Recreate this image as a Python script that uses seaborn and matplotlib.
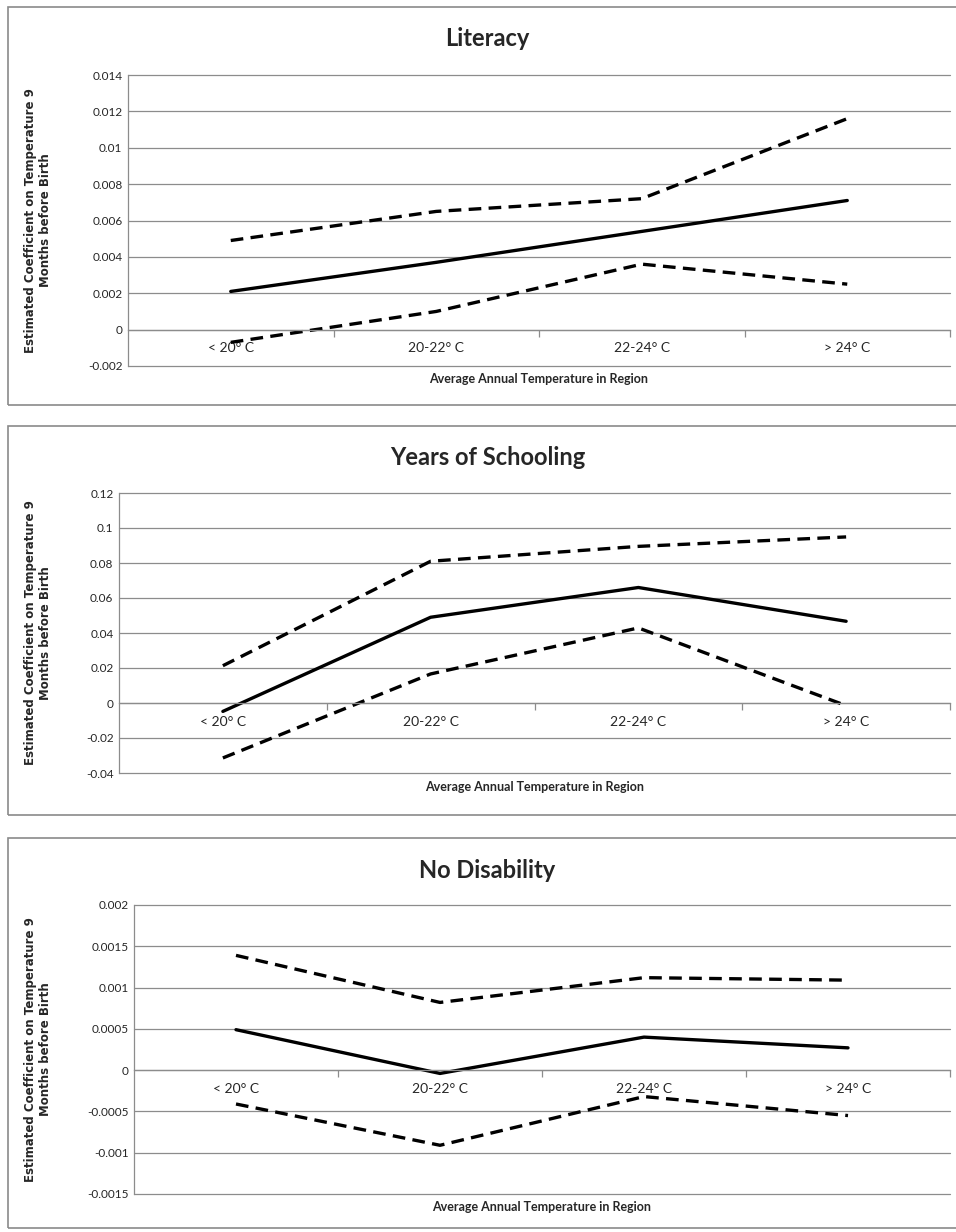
import matplotlib
matplotlib.use("Agg")
import matplotlib.pyplot as plt
from matplotlib.patches import Rectangle
import seaborn as sns

# categories on the x axis
categories = ["< 20° C", "20-22° C", "22-24° C", "> 24° C"]

# Literacy
lit_coef = [0.0021, 0.0037, 0.0054, 0.0071]
lit_upper = [0.0049, 0.0065, 0.0072, 0.0116]
lit_lower = [-0.0007, 0.0010, 0.0036, 0.0025]
lit_ticks = [-0.002, 0, 0.002, 0.004, 0.006, 0.008, 0.01, 0.012, 0.014]

# Years of schooling
yrs_coef = [-0.0048, 0.049, 0.066, 0.0467]
yrs_upper = [0.0213, 0.081, 0.0895, 0.0949]
yrs_lower = [-0.0314, 0.0166, 0.0429, -0.0015]
yrs_ticks = [-0.04, -0.02, 0, 0.02, 0.04, 0.06, 0.08, 0.1, 0.12]

# No disability
dis_coef = [0.00049, -0.00004, 0.00040, 0.00027]
dis_upper = [0.00139, 0.00082, 0.00112, 0.00109]
dis_lower = [-0.00041, -0.00091, -0.00032, -0.00055]
dis_ticks = [-0.0015, -0.001, -0.0005, 0, 0.0005, 0.001, 0.0015, 0.002]

titles = ["Literacy", "Years of Schooling", "No Disability"]
xlabel = "Average Annual Temperature in Region"
ylabel = "Estimated Coefficient on Temperature 9\nMonths before Birth"

sns.set_style("white")
plt.rcParams["font.family"] = ["Lato", "DejaVu Sans"]

W, H = 956, 1232
fig = plt.figure(figsize=(W / 100, H / 100), dpi=100)

GRID = "#8c8c8c"

# pixel layout: (axes left, top, bottom), box (top, bottom), title y, xlabel y
panels = [
    dict(ax=(128, 75, 366), box=(7, 405), title_y=39, xlab_y=379,
         data=(lit_coef, lit_upper, lit_lower), ticks=lit_ticks),
    dict(ax=(119, 493, 773), box=(426, 815), title_y=457, xlab_y=787,
         data=(yrs_coef, yrs_upper, yrs_lower), ticks=yrs_ticks),
    dict(ax=(134, 905, 1194), box=(838, 1228), title_y=870, xlab_y=1207,
         data=(dis_coef, dis_upper, dis_lower), ticks=dis_ticks),
]
RIGHT = 950

for title, p in zip(titles, panels):
    left, top, bottom = p["ax"]
    btop, bbot = p["box"]

    # outer chart frame
    fig.patches.append(Rectangle((8 / W, 1 - bbot / H), 1.2, (bbot - btop) / H,
                                 transform=fig.transFigure, fill=False,
                                 edgecolor="#8a8a8a", linewidth=1.2))

    ax = fig.add_axes([left / W, 1 - bottom / H, (RIGHT - left) / W, (bottom - top) / H])
    ax.set_facecolor("none")

    coef, upper, lower = p["data"]
    sns.lineplot(x=categories, y=upper, ax=ax, color="black", linewidth=2.4,
                 sort=False)
    sns.lineplot(x=categories, y=lower, ax=ax, color="black", linewidth=2.4,
                 sort=False)
    sns.lineplot(x=categories, y=coef, ax=ax, color="black", linewidth=2.4,
                 sort=False)
    ax.lines[0].set_dashes((3.8, 2.2))
    ax.lines[1].set_dashes((3.8, 2.2))

    ticks = p["ticks"]
    ax.set_ylim(ticks[0], ticks[-1])
    ax.set_xlim(-0.5, 3.5)
    ax.set_yticks(ticks)
    ax.set_yticklabels([f"{t:g}" for t in ticks], fontsize=8.5)
    for t in ticks:
        ax.axhline(t, color=GRID, linewidth=0.9, zorder=0, clip_on=False)

    ax.set_xticks(range(len(categories)))
    ax.set_xticklabels(categories, fontsize=8.5)
    ax.set_xticks([0.5, 1.5, 2.5, 3.5], minor=True)
    ax.tick_params(axis="x", which="major", bottom=True, length=0, pad=9)
    ax.tick_params(axis="x", which="minor", bottom=True, length=5, width=0.9,
                   color=GRID, direction="out")
    ax.tick_params(axis="y", length=0, pad=4)

    for s in ("top", "right"):
        ax.spines[s].set_visible(False)
    ax.spines["bottom"].set_position(("data", 0))
    ax.spines["bottom"].set_color(GRID)
    ax.spines["left"].set_color(GRID)
    ax.spines["left"].set_linewidth(0.9)
    ax.spines["bottom"].set_linewidth(0.9)

    ax.set_xlabel("")
    ax.set_ylabel(ylabel, fontsize=8.5, fontweight="bold", family="DejaVu Sans",
                  linespacing=1.15)
    ax.yaxis.set_label_coords((52 - left) / (RIGHT - left), 0.5)

    fig.text(0.51, 1 - p["title_y"] / H, title, ha="center", va="center",
             fontsize=17, fontweight="bold")
    fig.text((left + RIGHT) / 2 / W, 1 - p["xlab_y"] / H, xlabel, ha="center",
             va="center", fontsize=9, fontweight="bold")

fig.savefig("out.png", dpi=100)
